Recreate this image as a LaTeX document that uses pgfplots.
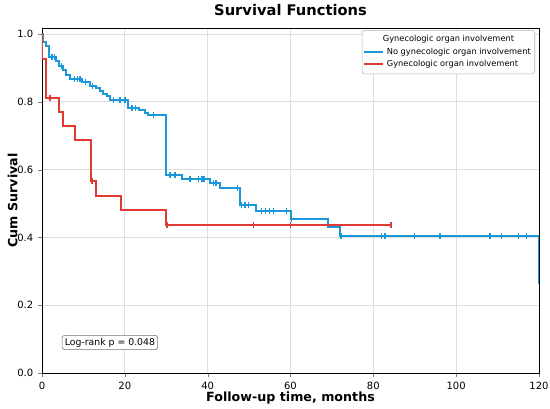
\documentclass[border=0pt]{standalone}
\usepackage{fontspec}
\setmainfont{DejaVu Sans}
\usepackage{pgfplots}
\pgfplotsset{compat=1.18}
\definecolor{kmblue}{RGB}{27,152,218}
\definecolor{kmred}{RGB}{224,58,52}
\begin{document}
\begin{tikzpicture}
\path[use as bounding box] (-31.5pt,-26.25pt) rectangle (381pt,279.75pt);
\begin{axis}[
  scale only axis, width=372.75pt, height=258.75pt,
  xmin=0, xmax=120, ymin=0, ymax=1.018,
  xtick={0,20,40,60,80,100,120},
  ytick={0,0.2,0.4,0.6,0.8,1},
  yticklabel style={/pgf/number format/.cd, fixed, fixed zerofill, precision=1},
  /pgf/number format/assume math mode=true,
  tick label style={font=\fontsize{7.5}{9}\selectfont},
  grid=major, grid style={black!13, line width=0.6pt},
  tick align=outside, tick pos=left, major tick length=3pt,
  axis line style={black, line width=0.7pt},
  title={Survival Functions},
  title style={font=\fontsize{11}{13}\selectfont\bfseries},
  xlabel={Follow-up time, months},
  ylabel={Cum Survival},
  xlabel shift=-5pt, ylabel shift=-7pt,
  label style={font=\fontsize{9.5}{11}\selectfont\bfseries},
  legend style={at={(rel axis cs:0.992,0.994)}, anchor=north east,
    font=\fontsize{6.2}{7.2}\selectfont, draw=black!30, rounded corners=2pt,
    cells={anchor=west}, row sep=-1pt, inner xsep=1pt},
  legend image code/.code={\draw[#1, line width=1.4pt] (0cm,0cm) -- (0.5cm,0cm);},
]
\addlegendimage{empty legend}
\addlegendentry{\hspace*{-3pt}Gynecologic organ involvement}
\addplot[const plot, kmblue, line width=1.5pt] coordinates {
(0,1.0)(0.3,0.976)(1.0,0.965)(1.8,0.933)(3.4,0.92)(4.2,0.907)(5.0,0.893)(5.8,0.878)(6.8,0.868)(9.6,0.858)(11.6,0.846)(13.0,0.841)(14.0,0.831)(14.8,0.823)(15.6,0.816)(16.4,0.806)(20.8,0.782)(23.3,0.777)(24.9,0.767)(25.7,0.762)(30.0,0.585)(33.7,0.572)(40.6,0.561)(43.0,0.547)(47.8,0.495)(51.7,0.478)(60.0,0.455)(69.1,0.430)(72.0,0.404)(120,0.271)
};
\addlegendentry{No gynecologic organ involvement}
\addplot[const plot, kmred, line width=1.5pt] coordinates {
(0,1.0)(0.1,0.926)(0.9,0.811)(4.0,0.77)(5.0,0.729)(7.9,0.689)(11.8,0.567)(13.0,0.523)(19.0,0.481)(30.0,0.437)(84.3,0.437)
};
\addlegendentry{Gynecologic organ involvement}
\addplot[only marks, mark=|, mark size=2.2pt, kmblue, mark options={line width=1pt}, forget plot] coordinates {
(2.4,0.933)(3.0,0.933)(4.7,0.907)(7.8,0.868)(8.6,0.868)(9.2,0.868)(10.5,0.858)(12.2,0.846)(17.2,0.806)(18.8,0.806)(20.0,0.806)(21.7,0.782)(22.5,0.782)(26.9,0.762)(30.9,0.585)(32.1,0.585)(35.7,0.572)(37.8,0.572)(38.6,0.572)(39.1,0.572)(41.4,0.561)(42.0,0.561)(47.2,0.547)(48.2,0.495)(49.0,0.495)(49.8,0.495)(53.0,0.478)(53.9,0.478)(54.9,0.478)(55.9,0.478)(59.0,0.478)(60.2,0.455)(72.2,0.404)(82.0,0.404)(82.8,0.404)(89.9,0.404)(96.1,0.404)(108.2,0.404)(111.0,0.404)(115.0,0.404)(117.0,0.404)(119.8,0.271)
};
\addplot[only marks, mark=|, mark size=2.2pt, kmred, mark options={line width=1pt}, forget plot] coordinates {
(1.9,0.811)(12.1,0.567)(30.2,0.437)(51.0,0.437)(60.0,0.437)(84.3,0.437)
};
\node[draw=black!55, rounded corners=2pt, fill=white, font=\fontsize{7}{8}\selectfont, inner sep=2pt] at (axis cs:16.4,0.09) {Log-rank p = 0.048};
\end{axis}
\end{tikzpicture}
\end{document}
